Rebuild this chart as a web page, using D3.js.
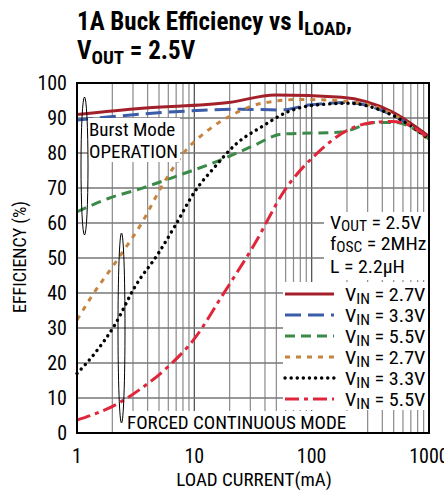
<!DOCTYPE html>
<html><head><meta charset="utf-8">
<script src="https://cdn.jsdelivr.net/npm/d3@7"></script>
<style>
body{margin:0;background:#fff;}
text{font-family:"Liberation Sans Narrow","Roboto Condensed","Liberation Sans",sans-serif;}
</style></head>
<body><svg id="c" width="444" height="491"></svg>
<script>
const xTicks = [1, 10, 100, 1000];
const yTicks = [0,10,20,30,40,50,60,70,80,90,100];
const seriesNames = ["VIN = 2.7V","VIN = 3.3V","VIN = 5.5V","VIN = 2.7V","VIN = 3.3V","VIN = 5.5V"];
const burst27 = [[1,91],[3.6,92.8],[19.5,94.4],[49,96.6],[180,95.9],[480,91.8],[1000,84.7]];
const burst33 = [[1,89.4],[6.8,91.8],[25,92.5],[55,92.3],[94,93.7],[205,94.4],[480,90.9],[1000,84.2]];
const burst55 = [[1,63.2],[1.85,67],[3.55,69.9],[6.8,73.2],[18.2,78.5],[32.9,82.3],[55,85.4],[180,86],[347,88.7],[513,88.7],[1000,84]];
const fc27 = [[1,32.3],[1.33,39],[2.25,49.9],[3.55,59.9],[5.26,70.4],[8.3,80.4],[13.2,86.6],[22.2,91.3],[37.5,94.2],[82,95.3],[205,94.7],[480,91.3],[1000,83.7]];
const fc33 = [[1,17],[1.42,22.8],[2.1,30.9],[3.12,41.8],[4.93,51.3],[6.8,59],[10.1,69],[15,76.1],[22.2,82.3],[37.5,87.5],[63,91.8],[107,93.7],[205,94.2],[480,90.9],[1000,84]];
const fc55 = [[1,3.7],[2.25,8.5],[3.55,12.8],[6,19],[10.1,27.1],[17.1,39],[32.9,54.2],[59,69.4],[107,79.4],[205,86.6],[303,88.5],[480,89],[670,88],[1000,84.2]];

const styles = [
  {c:"#a3202a", d:null, w:3},
  {c:"#3b5ca8", d:"16 7", w:3},
  {c:"#3a8a48", d:"10 6", w:3},
  {c:"#c58440", d:"5 6", w:3},
  {c:"#000000", d:"0.1 6", w:3.4, cap:"round"},
  {c:"#e0263b", d:"14 5 4 5", w:3}
];
const data = [burst27, burst33, burst55, fc27, fc33, fc55];

const L=77, R=429, T=83, B=433;
const svg = d3.select("#c");
const x = d3.scaleLog().domain([1,1000]).range([L,R]);
const y = d3.scaleLinear().domain([0,100]).range([B,T]);

// grid
const g = svg.append("g");
const minors = [];
for (let k=0;k<3;k++) for (let m=2;m<=9;m++) minors.push(m*Math.pow(10,k));
g.selectAll(".vm").data(minors).enter().append("line")
  .attr("x1",d=>x(d)).attr("x2",d=>x(d)).attr("y1",T).attr("y2",B)
  .attr("stroke","#8a8a8a").attr("stroke-width",1.2);
g.selectAll(".vM").data([10,100]).enter().append("line")
  .attr("x1",d=>x(d)).attr("x2",d=>x(d)).attr("y1",T).attr("y2",B)
  .attr("stroke","#555").attr("stroke-width",1.3);
g.selectAll(".h").data(yTicks.slice(1,-1)).enter().append("line")
  .attr("x1",L).attr("x2",R).attr("y1",d=>y(d)).attr("y2",d=>y(d))
  .attr("stroke","#777").attr("stroke-width",1.3);

// curves
const line = d3.line().x(d=>x(d[0])).y(d=>y(d[1])).curve(d3.curveMonotoneX);
const cg = svg.append("g");
data.forEach((s,i)=>{
  const st = styles[i];
  cg.append("path").attr("d",line(s)).attr("fill","none")
    .attr("stroke",st.c).attr("stroke-width",st.w)
    .attr("stroke-dasharray",st.d).attr("stroke-linecap",st.cap||"butt");
});

// frame
svg.append("rect").attr("x",L).attr("y",T).attr("width",R-L).attr("height",B-T)
  .attr("fill","none").attr("stroke","#000").attr("stroke-width",2);

// axes labels
svg.append("g").selectAll("text").data(yTicks).enter().append("text")
  .attr("x",67).attr("y",d=>y(d)+7).attr("text-anchor","end")
  .attr("font-size",20).text(d=>d);
svg.append("g").selectAll("text").data(xTicks).enter().append("text")
  .attr("x",d=>x(d)).attr("y",463).attr("text-anchor","middle")
  .attr("font-size",20).text(d=>d);
svg.append("text").attr("x",254).attr("y",486).attr("text-anchor","middle")
  .attr("font-size",19).text("LOAD CURRENT(mA)");
svg.append("text").attr("transform","translate(26,257) rotate(-90)").attr("text-anchor","middle")
  .attr("font-size",18).text("EFFICIENCY (%)");

// title
const t1 = svg.append("text").attr("x",77).attr("y",30).attr("font-size",25).attr("font-weight","bold");
t1.append("tspan").text("1A Buck Efficiency vs I");
t1.append("tspan").attr("font-size",19).attr("dy",5).text("LOAD");
t1.append("tspan").attr("dy",-5).text(",");
const t2 = svg.append("text").attr("x",77).attr("y",59).attr("font-size",25).attr("font-weight","bold");
t2.append("tspan").text("V");
t2.append("tspan").attr("font-size",19).attr("dy",5).text("OUT");
t2.append("tspan").attr("dy",-5).text(" = 2.5V");

// annotations
svg.append("rect").attr("x",88).attr("y",118).attr("width",92).attr("height",44).attr("fill","#fff");
svg.append("text").attr("x",89).attr("y",136).attr("font-size",19).text("Burst Mode");
svg.append("text").attr("x",89).attr("y",158).attr("font-size",19).text("OPERATION");
svg.append("ellipse").attr("cx",84.5).attr("cy",166).attr("rx",3.5).attr("ry",69)
  .attr("fill","none").attr("stroke","#000").attr("stroke-width",1);
svg.append("ellipse").attr("cx",121.5).attr("cy",328).attr("rx",3.5).attr("ry",95)
  .attr("fill","none").attr("stroke","#000").attr("stroke-width",1);
svg.append("rect").attr("x",126).attr("y",411).attr("width",224).attr("height",21).attr("fill","#fff");
svg.append("text").attr("x",127).attr("y",429).attr("font-size",19).text("FORCED CONTINUOUS MODE");

// conditions box
svg.append("rect").attr("x",324).attr("y",212).attr("width",104).attr("height",68).attr("fill","#fff");
function condText(yy, main, sub, rest){
  const t = svg.append("text").attr("transform",`translate(330,${yy}) scale(1.1,1)`).attr("font-size",18);
  t.append("tspan").text(main);
  if (sub){ t.append("tspan").attr("font-size",14).attr("dy",2).text(sub); t.append("tspan").attr("dy",-2).text(rest); }
}
condText(229,"V","OUT"," = 2.5V");
condText(250,"f","OSC"," = 2MHz");
condText(273,"L = 2.2µH");

// legend
svg.append("rect").attr("x",283).attr("y",282).attr("width",145).attr("height",128).attr("fill","#fff");
const lg = svg.append("g");
seriesNames.forEach((n,i)=>{
  const yy = 294 + i*21;
  const st = styles[i];
  lg.append("line").attr("x1",285).attr("x2",334).attr("y1",yy).attr("y2",yy)
    .attr("stroke",st.c).attr("stroke-width",st.w).attr("stroke-dasharray",st.d)
    .attr("stroke-linecap",st.cap||"butt");
  const tx = lg.append("text").attr("transform",`translate(345,${yy+7}) scale(1.12,1)`).attr("font-size",18);
  tx.append("tspan").text("V");
  tx.append("tspan").attr("font-size",14).attr("dy",3).text("IN");
  tx.append("tspan").attr("dy",-3).text(n.slice(3));
});
</script></body></html>
